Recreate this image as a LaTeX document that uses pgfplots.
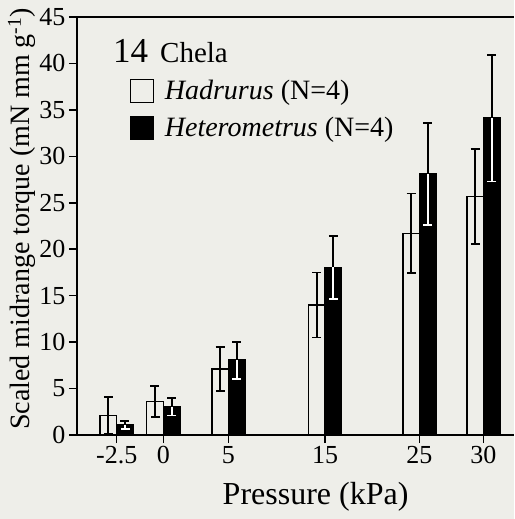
\documentclass[border=0pt]{standalone}
\usepackage{fontspec}
\setmainfont{Liberation Serif}
\usepackage{pgfplots}
\usepackage{pgfplotstable}
\pgfplotsset{compat=1.18}
\definecolor{bg}{RGB}{238,238,233}

% x = drawing position of bar centre (ticks at 116.7,163.3,228.3,325,419.3,483.3 for -2.5,0,5,15,25,30 kPa)
\pgfplotstableread{
x      y     e
108.4  2.10  1.95
155.0  3.60  1.70
220.0  7.10  2.35
316.7  14.00 3.50
411.0  21.70 4.30
475.0  25.65 5.10
}\hadrurus
\pgfplotstableread{
x      y     e
125.0  1.10  0.45
171.6  3.05  0.95
236.6  8.05  2.00
333.3  18.05 3.40
427.6  28.10 5.50
491.6  34.10 6.80
}\heterometrus

\begin{document}
\begin{tikzpicture}
\fill[bg] (-77pt,-84pt) rectangle (437pt,435pt);
\begin{axis}[
  at={(0,0)}, anchor=south west,
  scale only axis, width=437pt, height=418pt,
  xmin=77, xmax=514, ymin=0, ymax=45,
  axis x line*=box, axis y line*=left,
  y axis line style={-}, x axis line style={-},
  axis line style={line width=1.5pt},
  xtick pos=bottom, ytick pos=left,
  xtick align=outside, ytick align=outside,
  major tick length=8pt,
  tick style={line width=1.5pt, black},
  xtick={116.7,163.3,228.3,325,419.3,483.3},
  xticklabels={-2.5,0,5,15,25,30},
  ytick={0,5,...,45},
  /pgf/number format/assume math mode=true,
  ticklabel style={font=\fontsize{26}{26}\selectfont},
  xlabel={Pressure (kPa)},
  ylabel={Scaled midrange torque (mN mm g\textsuperscript{-1})},
  xlabel style={font=\fontsize{32}{32}\selectfont, at={(axis description cs:0.546,-0.148)}, anchor=center},
  ylabel style={font=\fontsize{28}{28}\selectfont, at={(axis description cs:-0.126,0.517)}, anchor=center},
  legend style={at={(axis description cs:0.113,0.858)}, anchor=north west, draw=none, fill=none,
    font=\fontsize{28}{30}\selectfont, row sep=12pt,
    /tikz/every odd column/.append style={column sep=9pt}},
  legend cell align=left,
]
\addplot[ybar, bar width=16.5, bar shift=0pt, fill=bg, draw=black, line width=1.5pt, forget plot,
  error bars/.cd, y dir=both, y explicit,
  error bar style={line width=1.8pt, black},
  error mark options={rotate=90, mark size=4.5pt, line width=1.8pt, black}]
  table[x=x, y=y, y error=e] {\hadrurus};
\addplot[ybar, bar width=16.5, bar shift=0pt, fill=black, draw=black, line width=1.5pt, forget plot,
  error bars/.cd, y dir=plus, y explicit,
  error bar style={line width=1.8pt, black},
  error mark options={rotate=90, mark size=4.5pt, line width=1.8pt, black}]
  table[x=x, y=y, y error=e] {\heterometrus};
\addplot[ybar, bar width=16.5, bar shift=0pt, draw=none, fill=none, forget plot,
  error bars/.cd, y dir=minus, y explicit,
  error bar style={line width=1.8pt, white},
  error mark options={rotate=90, mark size=4.5pt, line width=1.8pt, white}]
  table[x=x, y=y, y error=e] {\heterometrus};
\addlegendimage{legend image code/.code={\draw[fill=bg, draw=black, line width=1.3pt] (0pt,-11.5pt) rectangle (23pt,11.5pt);}}
\addlegendentry{\textit{Hadrurus} (N=4)}
\addlegendimage{legend image code/.code={\draw[fill=black, draw=black, line width=1.3pt] (0pt,-11.5pt) rectangle (23pt,11.5pt);}}
\addlegendentry{\textit{Heterometrus} (N=4)}
\node[anchor=base west, inner sep=0pt] at (axis description cs:0.0824,0.892)
  {{\fontsize{35}{35}\selectfont 14}\hspace{12pt}{\fontsize{29}{29}\selectfont Chela}};
\end{axis}
\end{tikzpicture}
\end{document}
